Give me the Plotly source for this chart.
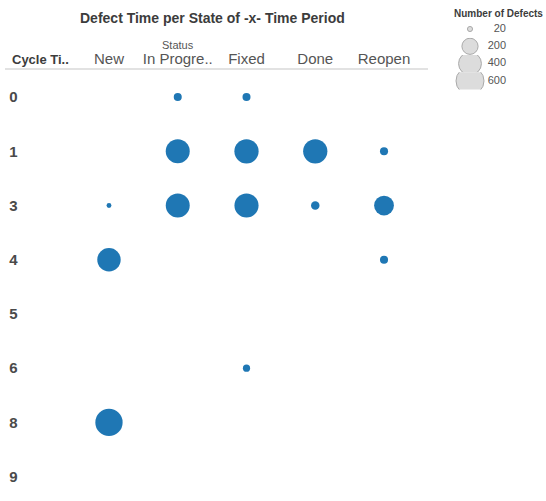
import plotly.graph_objects as go

# Row and column categories
cycle_times = ["0", "1", "3", "4", "5", "6", "8", "9"]
statuses = ["New", "In Progress", "Fixed", "Done", "Reopen"]
status_labels = ["New", "In Progre..", "Fixed", "Done", "Reopen"]

# Defect counts per (cycle time, status)
point_cycle = ["0", "0", "1", "1", "1", "1", "3", "3", "3", "3", "3", "4", "4", "6", "8"]
point_status = ["In Progress", "Fixed",
                "In Progress", "Fixed", "Done", "Reopen",
                "New", "In Progress", "Fixed", "Done", "Reopen",
                "New", "Reopen",
                "Fixed",
                "New"]
point_count = [49, 49,
               440, 450, 450, 50,
               18, 440, 445, 55, 300,
               420, 50,
               40,
               570]

# Size legend entries
legend_values = [20, 200, 400, 600]
legend_labels = ["20", "200", "400", "600"]

W, H = 546, 501
MAX_VAL, MAX_PX = 600, 28
sizeref = 2.0 * MAX_VAL / MAX_PX ** 2

plot_left, plot_right = 74.6, 418.4
plot_top = 70

fig = go.Figure()

fig.add_trace(go.Scatter(
    x=point_status, y=point_cycle, mode="markers",
    marker=dict(size=point_count, sizemode="area", sizeref=sizeref,
                color="#1f77b4", opacity=1, line=dict(width=0)),
    xaxis="x", yaxis="y", showlegend=False, hoverinfo="x+y+text",
    text=[str(v) for v in point_count],
))

layout_axes = {}
# Size legend: one clipped row per entry, swatch on the left, value right-aligned
row_h = 17.3
first_row_center = 29.0
for i, (val, lab) in enumerate(zip(legend_values, legend_labels)):
    n = i + 2
    xa, ya = f"x{n}", f"y{n}"
    fig.add_trace(go.Scatter(
        x=["mark"], y=[lab], mode="markers",
        marker=dict(size=[val], sizemode="area", sizeref=sizeref,
                    color="#dcdcdc", opacity=1, line=dict(width=1, color="#a9a9a9")),
        xaxis=xa, yaxis=ya, showlegend=False, hoverinfo="skip", cliponaxis=True,
    ))
    fig.add_trace(go.Scatter(
        x=["label"], y=[lab], mode="text", text=[lab],
        textposition="middle left",
        textfont=dict(size=11, color="#555555", family="Liberation Sans, Arial"),
        xaxis=xa, yaxis=ya, showlegend=False, hoverinfo="skip",
    ))
    c = first_row_center + i * row_h
    layout_axes[f"xaxis{n}"] = dict(
        domain=[452 / W, 524 / W], anchor=ya,
        type="category", categoryorder="array", categoryarray=["mark", "label"],
        range=[-0.5, 1.5], visible=False, fixedrange=True,
    )
    layout_axes[f"yaxis{n}"] = dict(
        domain=[(H - (c + row_h / 2)) / H, (H - (c - row_h / 2)) / H], anchor=xa,
        type="category", range=[-0.5, 0.5], visible=False, fixedrange=True,
    )

font_main = "Liberation Sans, Arial, sans-serif"

fig.update_layout(
    template="none",
    width=W, height=H,
    margin=dict(l=0, r=0, t=0, b=0),
    paper_bgcolor="white", plot_bgcolor="rgba(0,0,0,0)",
    font=dict(family=font_main, color="#555555"),
    xaxis=dict(
        domain=[plot_left / W, plot_right / W],
        type="category", categoryorder="array", categoryarray=statuses,
        range=[-0.5, len(statuses) - 0.5],
        tickvals=statuses, ticktext=status_labels,
        side="top", showgrid=False, zeroline=False, showline=False,
        ticks="", ticklabelstandoff=2,
        tickfont=dict(size=15, color="#555555"),
        fixedrange=True,
    ),
    yaxis=dict(
        domain=[0, (H - plot_top) / H],
        type="category", categoryorder="array", categoryarray=cycle_times,
        range=[7.45, -0.5],
        showgrid=False, zeroline=False, showline=False,
        ticks="", ticklabelstandoff=56,
        tickfont=dict(size=15, color="#4a4a4a", family="Liberation Sans, Arial", weight="bold"),
        fixedrange=True,
    ),
    shapes=[
        dict(type="line", xref="paper", yref="paper",
             x0=5 / W, x1=428 / W, y0=(H - 69) / H, y1=(H - 69) / H,
             line=dict(color="#e2e2e2", width=2)),
    ],
    annotations=[
        dict(text="<b>Defect Time per State of -x- Time Period</b>",
             xref="paper", yref="paper", x=212 / W, y=(H - 18) / H,
             xanchor="center", yanchor="middle", showarrow=False,
             font=dict(size=14, color="#3c3c3c")),
        dict(text="Status", xref="paper", yref="paper",
             x=178 / W, y=(H - 45) / H, xanchor="center", yanchor="middle",
             showarrow=False, font=dict(size=11, color="#555555")),
        dict(text="<b>Cycle Ti..</b>", xref="paper", yref="paper",
             x=10 / W, y=(H - 60) / H, xanchor="left", yanchor="middle",
             showarrow=False, font=dict(size=13, color="#3c3c3c")),
        dict(text="<b>Number of Defects</b>", xref="paper", yref="paper",
             x=498 / W, y=(H - 13) / H, xanchor="center", yanchor="middle",
             showarrow=False, font=dict(size=10, color="#3c3c3c")),
    ],
    **layout_axes,
)

fig.write_html("out.html")
